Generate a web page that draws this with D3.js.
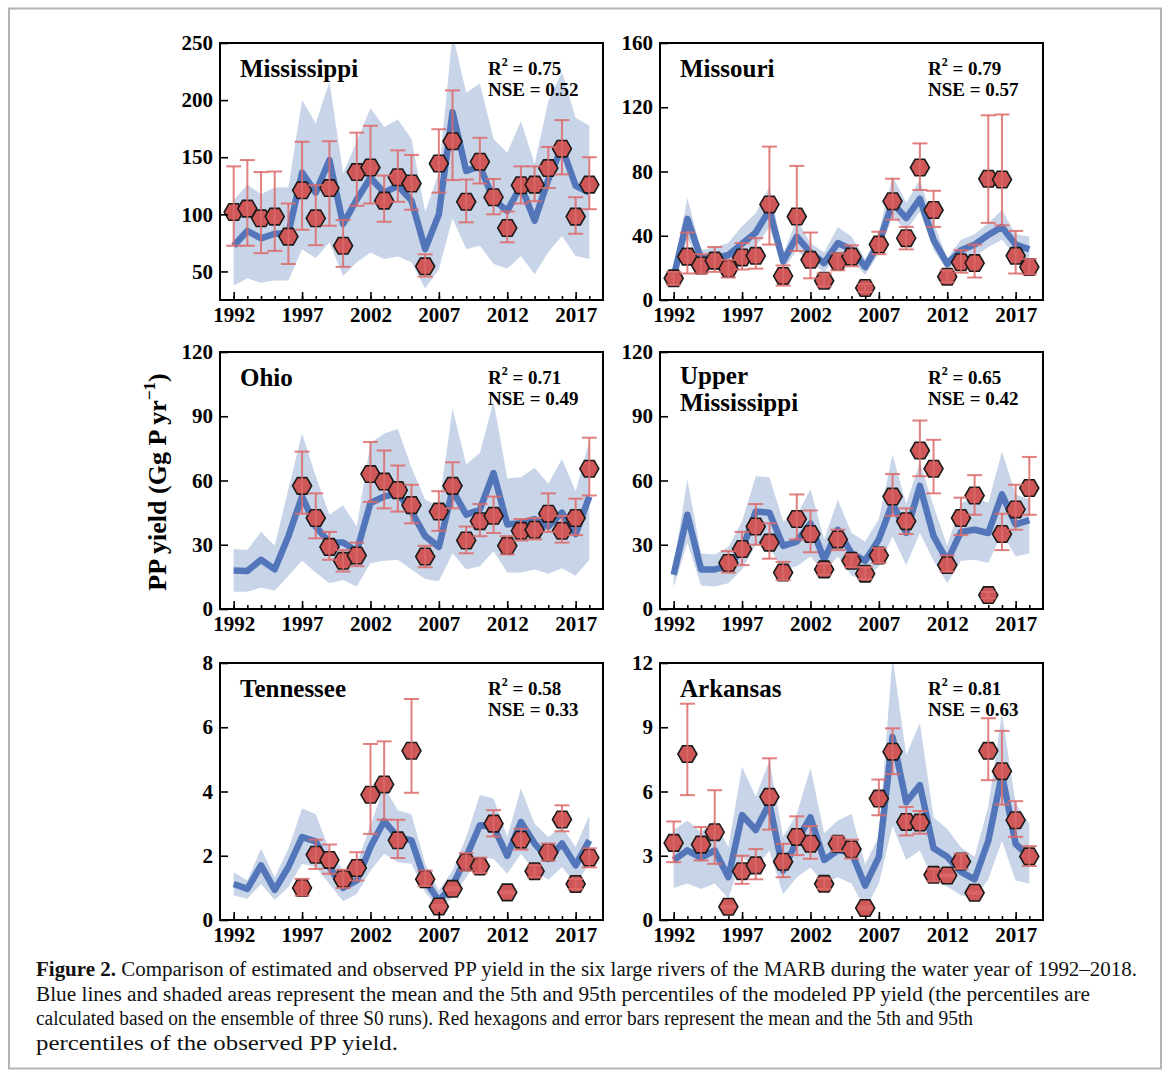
<!DOCTYPE html>
<html>
<head>
<meta charset="utf-8">
<script src="https://cdn.jsdelivr.net/npm/d3@7"></script>
<style>
	body { margin: 0; background: #fff; }
	svg { display: block; }
</style>
</head>
<body>
<script>

var years = [1992, 1993, 1994, 1995, 1996, 1997, 1998, 1999, 2000, 2001, 2002, 2003, 2004, 2005,
	2006, 2007, 2008, 2009, 2010, 2011, 2012, 2013, 2014, 2015, 2016, 2017, 2018];
var yearTicks = [1992, 1997, 2002, 2007, 2012, 2017];

// Mississippi
var mississippiMean = [72.5, 85.5, 79, 83, 83.5, 136.5, 119, 147.5, 91.5, 113, 132, 119, 125, 112, 69.5, 100, 189.5, 138, 142, 113, 103, 125, 94.5, 130.5, 158.5, 125, 119];
var mississippiLow = [37.5, 44, 40, 42, 42, 69.5, 61.5, 75.5, 46, 58, 66.5, 61, 63, 58, 35, 52, 96.5, 69.5, 72.5, 56.5, 52.5, 63.5, 47.5, 67, 81, 63.5, 61];
var mississippiHigh = [112.5, 126, 117.5, 123.5, 123.5, 200, 179.5, 216, 136, 164, 193, 176.5, 183, 166, 102, 136.5, 258, 206.5, 214.5, 166, 154, 181.5, 144, 199, 224.5, 184.5, 177.5];
var mississippiObs = [102, 105, 96.5, 98, 80.5, 121, 96.5, 123, 72.5, 137, 141, 112, 132.5, 127, 54.5, 144.5, 164, 111, 146, 115, 88, 125.5, 126, 140.5, 157.5, 98, 126];
var mississippiObsLow = [72.5, 72.5, 66, 68, 56.5, 86.5, 73, 90, 54, 107.5, 109.5, 93.5, 111, 104, 45.5, 119, 130, 93, 127, 100, 75.5, 109.5, 111.5, 123, 135, 83, 104.5];
var mississippiObsHigh = [142, 147.5, 137, 137.5, 109.5, 163.5, 125.5, 164, 95, 171.5, 177.5, 134, 156, 152, 65, 174.5, 208.5, 130.5, 167, 131, 102.5, 142, 142, 159, 182.5, 115, 150];

// Missouri
var missouriMean = [14.5, 50.5, 26, 26, 28, 35, 42, 56, 24, 39.5, 29.5, 23, 35.5, 31.5, 20.5, 35.5, 60.5, 51, 63, 37.5, 22.5, 31, 34.5, 40.5, 45.5, 34.5, 31.5];
var missouriLow = [10.5, 38.5, 22, 21, 22, 27, 33, 45.5, 18.5, 31, 23, 17.5, 27, 25, 15.5, 29, 52, 43.5, 55, 31, 18.5, 25, 27, 33, 37.5, 27, 25];
var missouriHigh = [19, 63.5, 31, 33, 35.5, 46, 54, 70.5, 29, 50, 35.5, 29.5, 45.5, 39.5, 25.5, 42.5, 77, 60.5, 75, 48, 26, 37.5, 41, 48, 56, 41, 39.5];
var missouriObs = [13.5, 27, 21.5, 24.5, 19.5, 26.5, 27.5, 59.5, 15, 52, 25, 12, 24, 27, 7.5, 34.5, 61.5, 38.5, 82.5, 56, 14.5, 23.5, 23, 75.5, 75, 27.5, 20.5];
var missouriObsLow = [9.5, 16.5, 16.5, 17.5, 14, 19, 19.5, 34.5, 9, 30.5, 13.5, 8.5, 18.5, 21, 5, 28.5, 50, 31.5, 68.5, 45.5, 11, 17, 14, 48, 46.5, 16.5, 16];
var missouriObsHigh = [17.5, 42, 28.5, 33, 25, 35.5, 38.5, 95.5, 21.5, 83.5, 42, 16.5, 29, 34, 10, 42.5, 75.5, 45.5, 97.5, 68, 18.5, 31, 34.5, 115, 115.5, 43, 25.5];

// Ohio
var ohioMean = [18, 17.8, 23, 18.5, 34, 52.5, 38.5, 31, 31, 27, 49.5, 52.5, 54, 45.5, 34, 29, 55.5, 44, 46.5, 63.5, 39.5, 40, 42, 38.5, 45, 35, 52.5];
var ohioLow = [8, 8, 10, 8.5, 15.5, 22.5, 17, 12, 13.5, 10.5, 21.5, 22.5, 23, 18.5, 14, 13, 26, 18.5, 20, 27, 17, 17, 18.5, 16.5, 19, 15.5, 23];
var ohioHigh = [28, 27.5, 36, 29.5, 56, 82, 62, 44, 48.5, 38.5, 77.5, 82, 84, 66, 51, 48, 93.5, 67.5, 73, 97, 61, 61.5, 66, 58.5, 70, 55, 78.5];
var ohioObs = [null, null, null, null, null, 57.5, 42.5, 29, 22.5, 25, 63, 59.5, 55.5, 48.5, 24.5, 45.5, 57.5, 32, 41, 43.5, 29.5, 36.5, 37, 44.5, 36.5, 42.5, 65.5];
var ohioObsLow = [null, null, null, null, null, 44.5, 33, 23, 17.5, 20, 50, 47, 45.5, 40, 19.5, 36.5, 47, 26, 34, 35.5, 25.5, 32, 32.5, 36, 31, 34.5, 53];
var ohioObsHigh = [null, null, null, null, null, 73.5, 54, 36, 27.5, 31, 78, 74, 67, 58, 29.5, 55, 68.5, 38.5, 49, 52.5, 34, 42, 42.5, 54, 43.5, 51.5, 80];

// Upper Mississippi
var upperMean = [16, 44, 18.5, 18.5, 20, 27.5, 45.5, 45, 29.5, 31.5, 40, 23, 37, 26, 22.5, 32.5, 49.5, 35.5, 57.5, 34, 22.5, 36, 37, 35.5, 53.5, 39.5, 41.5];
var upperLow = [10, 31, 11, 10.5, 12, 18.5, 30, 28.5, 18.5, 20, 24.5, 17, 24.5, 15.5, 13.5, 20, 34, 20.5, 35.5, 22.5, 12, 22.5, 23, 21.5, 35.5, 24.5, 26];
var upperHigh = [20, 60.5, 26, 25.5, 29, 41, 62, 61.5, 41, 43.5, 56, 32.5, 51, 35.5, 31.5, 42, 72, 49, 68.5, 48, 29.5, 49.5, 52, 49.5, 73.5, 53.5, 51];
var upperObs = [null, null, null, null, 21.5, 28, 38.5, 31, 17, 42, 35, 18.5, 32.5, 22.5, 16.5, 25, 52.5, 41, 74, 65.5, 20.5, 42.5, 53, 6.5, 35, 46.5, 56.5];
var upperObsLow = [null, null, null, null, 17, 20.5, 30, 23.5, 13.5, 32.5, 26.5, 16, 27.5, 19.5, 14, 21.5, 43.5, 35, 62, 54, 17.5, 34.5, 44, 5, 27.5, 37, 44];
var upperObsHigh = [null, null, null, null, 27, 36, 49, 40, 22, 53.5, 46, 21, 37, 25.5, 19.5, 28.5, 63, 47, 88, 79, 25, 52, 62.5, 8, 44.5, 58, 71];

// Tennessee
var tennesseeMean = [1.12, 0.97, 1.7, 0.94, 1.65, 2.58, 2.45, 1.65, 1.0, 1.23, 2.27, 3.08, 2.58, 2.48, 1.23, 0.6, 1.07, 1.96, 2.95, 2.9, 2.0, 3.05, 2.38, 1.9, 2.38, 1.7, 2.48];
var tennesseeLow = [0.76, 0.66, 1.12, 0.63, 1.02, 1.75, 1.65, 1.12, 0.58, 0.81, 1.54, 2.06, 1.8, 1.75, 0.86, 0.34, 0.71, 1.33, 1.96, 1.9, 1.44, 2.06, 1.54, 1.25, 1.65, 1.12, 1.75];
var tennesseeHigh = [1.49, 1.23, 2.22, 1.33, 2.22, 3.47, 3.29, 2.17, 1.54, 1.75, 2.95, 4.15, 3.42, 3.29, 1.75, 0.92, 1.54, 2.58, 3.89, 3.78, 2.58, 4.09, 3.0, 2.58, 2.9, 2.27, 3.26];
var tennesseeObs = [null, null, null, null, null, 1.0, 2.03, 1.87, 1.28, 1.62, 3.9, 4.22, 2.48, 5.27, 1.27, 0.42, 0.97, 1.8, 1.67, 3.0, 0.86, 2.5, 1.52, 2.1, 3.13, 1.12, 1.94];
var tennesseeObsLow = [null, null, null, null, null, 0.76, 1.59, 1.44, 1.0, 1.23, 2.68, 3.12, 1.93, 3.96, 1.06, 0.38, 0.93, 1.54, 1.46, 2.6, 0.83, 2.19, 1.33, 1.85, 2.76, 0.96, 1.64];
var tennesseeObsHigh = [null, null, null, null, null, 1.28, 2.5, 2.35, 1.56, 2.11, 5.48, 5.56, 3.12, 6.88, 1.54, 0.46, 1.01, 2.08, 1.94, 3.42, 0.89, 2.84, 1.7, 2.38, 3.57, 1.28, 2.23];

// Arkansas
var arkansasMean = [2.8, 3.25, 2.9, 3.25, 2.0, 4.9, 4.2, 5.45, 2.3, 3.7, 4.8, 2.8, 3.25, 3.15, 1.6, 2.95, 8.55, 5.5, 6.3, 3.35, 2.95, 2.25, 1.9, 3.7, 6.8, 3.55, 2.95];
var arkansasLow = [1.5, 1.7, 1.45, 1.7, 1.0, 2.95, 2.45, 3.25, 1.2, 2.0, 2.45, 1.7, 2.0, 1.7, 0.5, 1.7, 4.4, 2.8, 3.25, 1.85, 1.55, 1.15, 1.0, 1.9, 3.7, 1.85, 1.7];
var arkansasHigh = [4.2, 4.65, 4.1, 4.65, 3.4, 7.15, 5.75, 7.45, 3.9, 4.95, 7.1, 4.05, 4.65, 4.95, 2.6, 3.9, 12.3, 7.7, 9.2, 4.8, 4.25, 3.4, 2.95, 5.3, 9.65, 5.45, 4.5];
var arkansasObs = [3.6, 7.75, 3.52, 4.1, 0.62, 2.28, 2.55, 5.75, 2.72, 3.88, 3.56, 1.69, 3.56, 3.3, 0.56, 5.67, 7.86, 4.58, 4.55, 2.11, 2.08, 2.73, 1.27, 7.9, 6.95, 4.66, 2.97];
var arkansasObsLow = [2.7, 5.83, 2.78, 2.62, 0.58, 1.69, 1.9, 4.22, 2.0, 3.03, 2.86, 1.45, 3.22, 2.87, 0.5, 4.89, 6.81, 3.95, 4.03, 1.81, 2.04, 2.39, 1.22, 6.53, 5.39, 3.88, 2.52];
var arkansasObsHigh = [4.6, 10.1, 4.34, 6.06, 0.66, 3.0, 3.31, 7.55, 3.56, 4.84, 4.39, 1.93, 3.9, 3.75, 0.62, 6.56, 8.95, 5.28, 5.09, 2.39, 2.12, 3.09, 1.32, 9.42, 8.83, 5.55, 3.45];

var captionLines = [
	'Comparison of estimated and observed PP yield in the six large rivers of the MARB during the water year of 1992\u20132018.',
	'Blue lines and shaded areas represent the mean and the 5th and 95th percentiles of the modeled PP yield (the percentiles are',
	'calculated based on the ensemble of three S0 runs). Red hexagons and error bars represent the mean and the 5th and 95th',
	'percentiles of the observed PP yield.'
];

(
	function() {

		var width = 1169;
		var height = 1077;
		var panelWidth = 383;
		var panelHeight = 257;
		var colX = [220, 660];
		var rowY = [43, 352, 663];
		var serif = '"Liberation Serif", "Times New Roman", serif';

		var bandColor = '#c8d4e8';
		var lineColor = '#5276b9';
		var hexColor = '#cf5757';
		var barColor = '#dc6a6a';

		var panels = [
			{ name: ['Mississippi'], r2: '0.75', nse: '0.52', domain: [25, 250], ticks: [50, 100, 150, 200, 250],
				mean: mississippiMean, low: mississippiLow, high: mississippiHigh,
				obs: mississippiObs, obsLow: mississippiObsLow, obsHigh: mississippiObsHigh },
			{ name: ['Missouri'], r2: '0.79', nse: '0.57', domain: [0, 160], ticks: [0, 40, 80, 120, 160],
				mean: missouriMean, low: missouriLow, high: missouriHigh,
				obs: missouriObs, obsLow: missouriObsLow, obsHigh: missouriObsHigh },
			{ name: ['Ohio'], r2: '0.71', nse: '0.49', domain: [0, 120], ticks: [0, 30, 60, 90, 120],
				mean: ohioMean, low: ohioLow, high: ohioHigh,
				obs: ohioObs, obsLow: ohioObsLow, obsHigh: ohioObsHigh },
			{ name: ['Upper', 'Mississippi'], r2: '0.65', nse: '0.42', domain: [0, 120], ticks: [0, 30, 60, 90, 120],
				mean: upperMean, low: upperLow, high: upperHigh,
				obs: upperObs, obsLow: upperObsLow, obsHigh: upperObsHigh },
			{ name: ['Tennessee'], r2: '0.58', nse: '0.33', domain: [0, 8], ticks: [0, 2, 4, 6, 8],
				mean: tennesseeMean, low: tennesseeLow, high: tennesseeHigh,
				obs: tennesseeObs, obsLow: tennesseeObsLow, obsHigh: tennesseeObsHigh },
			{ name: ['Arkansas'], r2: '0.81', nse: '0.63', domain: [0, 12], ticks: [0, 3, 6, 9, 12],
				mean: arkansasMean, low: arkansasLow, high: arkansasHigh,
				obs: arkansasObs, obsLow: arkansasObsLow, obsHigh: arkansasObsHigh }
		];

		var svg = d3.select('body')
			.append('svg')
				.attr('width', width)
				.attr('height', height);

		svg.append('rect')
			.attr('x', 0)
			.attr('y', 0)
			.attr('width', width)
			.attr('height', height)
			.attr('fill', '#fff');

		// page border
		svg.append('rect')
			.attr('x', 9)
			.attr('y', 8.5)
			.attr('width', 1152)
			.attr('height', 1060)
			.attr('fill', 'none')
			.attr('stroke', '#b4b4b4')
			.attr('stroke-width', 2);

		var x = d3.scaleLinear()
			.domain([1991, 2019])
			.range([0, panelWidth]);

		function hexPath(r) {
			var pts = d3.range(6).map(function(k) {
				var a = Math.PI / 3 * k;
				return [r * Math.cos(a), r * Math.sin(a)];
			});
			return d3.line()(pts) + 'Z';
		}

		var defs = svg.append('defs');

		panels.forEach(function(p, i) {

			var left = colX[i % 2];
			var top = rowY[Math.floor(i / 2)];

			var y = d3.scaleLinear()
				.domain(p.domain)
				.range([panelHeight, 0]);

			var g = svg.append('g')
				.attr('transform', 'translate(' + left + ',' + top + ')');

			defs.append('clipPath')
				.attr('id', 'clip' + i)
				.append('rect')
					.attr('width', panelWidth)
					.attr('height', panelHeight);

			var rows = years.map(function(yr, j) {
				return { year: yr, mean: p.mean[j], low: p.low[j], high: p.high[j],
					obs: p.obs[j], obsLow: p.obsLow[j], obsHigh: p.obsHigh[j] };
			});

			var plot = g.append('g')
				.attr('clip-path', 'url(#clip' + i + ')');

			plot.append('path')
				.datum(rows)
				.attr('fill', bandColor)
				.attr('d', d3.area()
					.x(function(d) { return x(d.year); })
					.y0(function(d) { return y(d.low); })
					.y1(function(d) { return y(d.high); }));

			plot.append('path')
				.datum(rows)
				.attr('fill', 'none')
				.attr('stroke', lineColor)
				.attr('stroke-width', 6.5)
				.attr('stroke-linejoin', 'round')
				.attr('d', d3.line()
					.x(function(d) { return x(d.year); })
					.y(function(d) { return y(d.mean); }));

			var obsRows = rows.filter(function(d) { return d.obs !== null; });

			plot.selectAll('path.hex')
				.data(obsRows)
				.enter()
				.append('path')
					.attr('class', 'hex')
					.attr('transform', function(d) { return 'translate(' + x(d.year) + ',' + y(d.obs) + ')'; })
					.attr('d', hexPath(9.5))
					.attr('fill', hexColor)
					.attr('stroke', '#1a1a1a')
					.attr('stroke-width', 1.6);

			var bars = plot.selectAll('g.bar')
				.data(obsRows)
				.enter()
				.append('g')
					.attr('class', 'bar')
					.attr('stroke', barColor)
					.attr('stroke-opacity', 0.85)
					.attr('stroke-width', 2);

			bars.append('line')
				.attr('x1', function(d) { return x(d.year); })
				.attr('x2', function(d) { return x(d.year); })
				.attr('y1', function(d) { return y(d.obsLow); })
				.attr('y2', function(d) { return y(d.obsHigh); });

			['obsLow', 'obsHigh'].forEach(function(key) {
				bars.append('line')
					.attr('x1', function(d) { return x(d.year) - 7.5; })
					.attr('x2', function(d) { return x(d.year) + 7.5; })
					.attr('y1', function(d) { return y(d[key]); })
					.attr('y2', function(d) { return y(d[key]); });
			});

			// axes
			var yAxis = g.append('g')
				.call(d3.axisLeft(y).tickValues(p.ticks).tickSize(-8).tickPadding(7));

			var xAxis = g.append('g')
				.attr('transform', 'translate(0,' + panelHeight + ')')
				.call(d3.axisBottom(x).tickValues(yearTicks).tickFormat(d3.format('d')).tickSize(-8).tickPadding(7));

			g.append('g')
				.attr('transform', 'translate(0,' + panelHeight + ')')
				.call(d3.axisBottom(x).tickValues(years).tickFormat('').tickSize(-4))
				.call(function(a) { a.select('.domain').remove(); });

			[yAxis, xAxis].forEach(function(a) {
				a.select('.domain').remove();
				a.attr('font-family', serif)
					.attr('font-size', 21)
					.attr('font-weight', 'bold');
				a.selectAll('text').attr('fill', '#000');
			});

			g.selectAll('.tick line')
				.attr('stroke', '#000')
				.attr('stroke-width', 1.6);

			g.append('rect')
				.attr('width', panelWidth)
				.attr('height', panelHeight)
				.attr('fill', 'none')
				.attr('stroke', '#000')
				.attr('stroke-width', 2);

			// titles
			var title = g.append('text')
				.attr('font-family', serif)
				.attr('font-weight', 'bold')
				.attr('font-size', 25)
				.attr('fill', '#000');

			p.name.forEach(function(s, k) {
				title.append('tspan')
					.attr('x', 20)
					.attr('y', (p.name.length > 1 ? 32 : 33.5) + k * 27)
					.text(s);
			});

			var stats = g.append('g')
				.attr('font-family', serif)
				.attr('font-weight', 'bold')
				.attr('font-size', 19)
				.attr('fill', '#000');

			var r2 = stats.append('text')
				.attr('x', 268)
				.attr('y', 31.5);
			r2.append('tspan').text('R');
			r2.append('tspan')
				.attr('dy', -9)
				.attr('font-size', 12)
				.text('2');
			r2.append('tspan')
				.attr('dy', 9)
				.text(' = ' + p.r2);

			stats.append('text')
				.attr('x', 268)
				.attr('y', 53)
				.text('NSE = ' + p.nse);

		});

		// shared y label
		var yLabel = svg.append('text')
			.attr('transform', 'translate(166,482) rotate(-90)')
			.attr('text-anchor', 'middle')
			.attr('font-family', serif)
			.attr('font-weight', 'bold')
			.attr('font-size', 26)
			.attr('fill', '#000');
		yLabel.append('tspan').text('PP yield (Gg P yr');
		yLabel.append('tspan')
			.attr('dy', -11)
			.attr('font-size', 17)
			.text('\u22121');
		yLabel.append('tspan')
			.attr('dy', 11)
			.text(')');

		// caption
		var captionWidths = [1101, 1054, 937, 362];
		var caption = svg.append('g')
			.attr('font-family', serif)
			.attr('font-size', 20)
			.attr('fill', '#111');

		captionLines.forEach(function(s, k) {
			var t = caption.append('text')
				.attr('x', 36)
				.attr('y', 976 + k * 24.5)
				.attr('textLength', captionWidths[k])
				.attr('lengthAdjust', 'spacingAndGlyphs');
			if (k === 0) {
				t.append('tspan')
					.attr('font-weight', 'bold')
					.text('Figure 2. ');
			}
			t.append('tspan').text(s);
		});

	}
)();
</script>
</body>
</html>
